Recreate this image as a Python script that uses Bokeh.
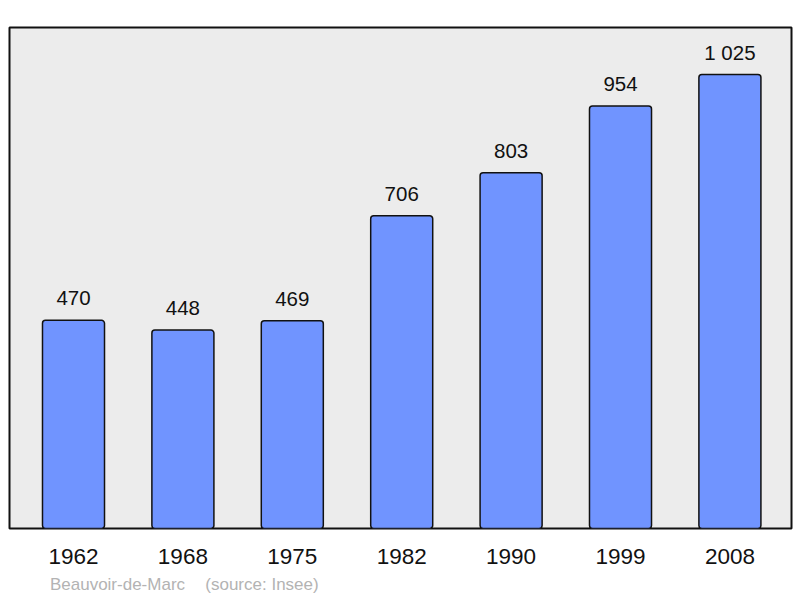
from bokeh.plotting import figure
from bokeh.models import Range1d, FixedTicker, LinearAxis, ColumnDataSource
from bokeh.core.properties import value
from bokeh.embed import file_html
from bokeh.resources import INLINE

years = ["1962", "1968", "1975", "1982", "1990", "1999", "2008"]
population = [470, 448, 469, 706, 803, 954, 1025]
value_labels = ["470", "448", "469", "706", "803", "954", "1 025"]
footer_texts = ["Beauvoir-de-Marc", "(source: Insee)"]

xs = list(range(len(years)))
src = ColumnDataSource(dict(x=xs, top=population, lab=value_labels))

p = figure(width=800, height=598, output_backend="svg", toolbar_location=None,
           x_range=Range1d(-0.585, 6.563), y_range=Range1d(0, 1131),
           min_border_left=9, min_border_right=9, min_border_top=27, min_border_bottom=70)
p.background_fill_color = "#ececec"
p.border_fill_color = "white"
p.outline_line_color = "#111111"
p.outline_line_width = 2
p.grid.visible = False
p.yaxis.visible = False

p.vbar(x="x", top="top", width=0.567, bottom=0, source=src,
       fill_color="#7094ff", line_color="#111111", line_width=1.5, border_radius=3)

p.text(x="x", y="top", text="lab", source=src, y_offset=-22,
       text_align="center", text_baseline="middle",
       text_font=value("Liberation Sans"), text_font_size="20.5px", text_color="#111111")

ax = p.xaxis[0]
ax.ticker = FixedTicker(ticks=xs)
ax.major_label_overrides = {i: y for i, y in enumerate(years)}
ax.axis_line_color = None
ax.major_tick_line_color = None
ax.minor_tick_line_color = None
ax.major_label_text_font = "Liberation Sans"
ax.major_label_text_font_size = "22.5px"
ax.major_label_text_color = "#111111"
ax.major_label_standoff = 14

# footer line (source note) drawn as a second, line-less axis in pixel-like units
p.extra_x_ranges = {"px": Range1d(0, 782)}
foot_pos = [108, 252.5]
fax = LinearAxis(x_range_name="px", ticker=FixedTicker(ticks=foot_pos),
                 major_label_overrides={foot_pos[0]: footer_texts[0], foot_pos[1]: footer_texts[1]},
                 axis_line_color=None, major_tick_line_color=None, minor_tick_line_color=None,
                 major_label_text_font="Liberation Sans", major_label_text_font_size="17px",
                 major_label_text_color="#b3b3b3", major_label_standoff=2)
p.add_layout(fax, "below")

open("out.html", "w").write(file_html(p, INLINE))
